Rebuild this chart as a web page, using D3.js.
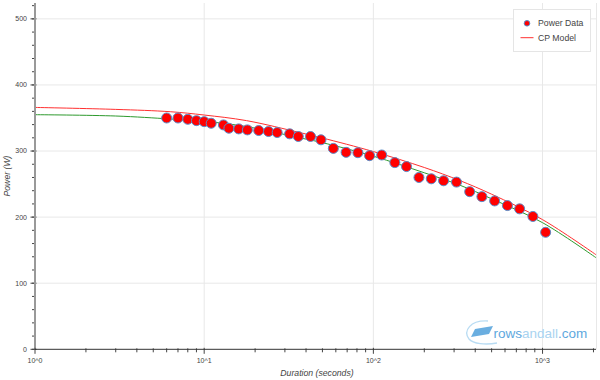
<!DOCTYPE html>
<html><head><meta charset="utf-8">
<script src="https://cdnjs.cloudflare.com/ajax/libs/d3/7.8.5/d3.min.js"></script>
<style>html,body{margin:0;padding:0;background:#fff;}svg{display:block;font-family:"Liberation Sans",Arial,Helvetica,sans-serif;}</style>
</head><body><div id="chart"></div>
<script>
// Power duration data (seconds, watts)
const durations = [6,7,8,9,10,11,13,14,16,18,21,24,27,32,36,42.5,49,58,69,81,95,112,134,157,186,220,260,310,371,438,521,620,732,877,1043];
const power = [350,350,348,346,344.5,342,339.5,334.5,333.5,332,331,329.5,328,326,322,322,317,304,298,297.5,293,294,282.5,276.5,260,258,255,253,238.5,231,224.5,217.5,212.5,201,177];
// Model curves
const modelT = [1,3,6.3,10,17.8,36.7,50,100,200,324,500,1000,2070];
const modelRed = [366,363,359.5,354.5,346,328,319.7,299.2,275.1,255.4,234.7,196.2,143.1];
const modelGreen = [355,353,348.5,345,337,320,312.7,292.2,267.1,248.4,227.7,191.6,138.6];
const xDomain = [1,2070];
const yDomain = [0,524];
const yTicks = [0,100,200,300,400,500];
const xTicks = [1,10,100,1000];
const xTickLabels = ["10^0","10^1","10^2","10^3"];
const legendLabels = ["Power Data","CP Model"];

const W=600,H=380;
const svg=d3.select("#chart").append("svg").attr("width",W).attr("height",H);
const x=d3.scaleLog().domain(xDomain).range([35,596]);
const y=d3.scaleLinear().domain(yDomain).range([349.3,3]);

// grid
const g=svg.append("g");
g.selectAll(".hg").data(yTicks.filter(d=>d>0)).join("line")
 .attr("x1",35).attr("x2",596).attr("y1",d=>y(d)).attr("y2",d=>y(d))
 .attr("stroke","#e8e8e8").attr("stroke-width",1);
g.selectAll(".vg").data(xTicks.filter(d=>d>1)).join("line")
 .attr("x1",d=>x(d)).attr("x2",d=>x(d)).attr("y1",3).attr("y2",349.3)
 .attr("stroke","#e8e8e8").attr("stroke-width",1);
// right frame
svg.append("line").attr("x1",596.5).attr("x2",596.5).attr("y1",3).attr("y2",349.3).attr("stroke","#e8e8e8");

// watermark
const wm=svg.append("g");
wm.append("path").attr("d","M488,321 C470,320 463,331 469,339 C473,344 486,345 497,343")
 .attr("fill","none").attr("stroke","#b9dcf3").attr("stroke-width",1.3);
wm.append("path").attr("d","M471,337 L475,329 L493,326 L489,334 Z").attr("fill","#6aaee0");
const wt=wm.append("text").attr("x",493.5).attr("y",338).attr("font-size",13.5);
wt.append("tspan").attr("fill","#5ea8de").text("rows");
wt.append("tspan").attr("fill","#a9d3f0").text("andall");
wt.append("tspan").attr("fill","#5ea8de").text(".com");

// lines
const line=d3.line().x((d,i)=>x(modelT[i])).y(d=>y(d)).curve(d3.curveCatmullRom.alpha(0.5));
svg.append("path").datum(modelGreen).attr("d",line).attr("fill","none").attr("stroke","#2e9a2e").attr("stroke-width",1);
svg.append("path").datum(modelRed).attr("d",line).attr("fill","none").attr("stroke","#ff3030").attr("stroke-width",1);

// points
svg.selectAll(".pt").data(durations).join("circle")
 .attr("cx",d=>x(d)).attr("cy",(d,i)=>y(power[i])).attr("r",5)
 .attr("fill","#ff0000").attr("stroke","#5a8cc8").attr("stroke-width",1);

// y axis
const ya=svg.append("g").attr("transform","translate(35,0)");
const yMinor=d3.range(0,521,20);
ya.selectAll(".ymt").data(yMinor).join("line").attr("x1",-3).attr("x2",1).attr("y1",d=>y(d)).attr("y2",d=>y(d)).attr("stroke","#444");
ya.selectAll(".yMt").data(yTicks).join("line").attr("x1",-4.5).attr("x2",1.5).attr("y1",d=>y(d)).attr("y2",d=>y(d)).attr("stroke","#444");
ya.append("line").attr("x1",0).attr("x2",0).attr("y1",3).attr("y2",349.3).attr("stroke","#999").attr("stroke-width",2);
ya.selectAll(".yl").data(yTicks).join("text").attr("x",-8).attr("y",d=>y(d)).attr("dy","0.35em")
 .attr("text-anchor","end").attr("font-size",7).attr("fill","#444").text(d=>d);
svg.append("text").attr("transform","translate(10,176) rotate(-90)").attr("text-anchor","middle")
 .attr("font-size",8.7).attr("font-style","italic").attr("fill","#444").text("Power (W)");

// x axis
const xa=svg.append("g").attr("transform","translate(0,349.3)");
const xMinor=[];
[1,10,100,1000].forEach(b=>{for(let k=2;k<=9;k++){if(b*k<=xDomain[1])xMinor.push(b*k);}});
xa.selectAll(".xmt").data(xMinor).join("line").attr("x1",d=>x(d)).attr("x2",d=>x(d)).attr("y1",-1).attr("y2",3).attr("stroke","#444");
xa.selectAll(".xMt").data(xTicks).join("line").attr("x1",d=>x(d)).attr("x2",d=>x(d)).attr("y1",-1.5).attr("y2",4.5).attr("stroke","#444");
xa.append("line").attr("x1",35).attr("x2",596).attr("y1",0).attr("y2",0).attr("stroke","#333").attr("stroke-width",1);
xa.selectAll(".xl").data(xTicks).join("text").attr("x",d=>x(d)).attr("y",13.5)
 .attr("text-anchor","middle").attr("font-size",7).attr("fill","#444").text((d,i)=>xTickLabels[i]);
svg.append("text").attr("x",317).attr("y",375.5).attr("text-anchor","middle")
 .attr("font-size",8.7).attr("font-style","italic").attr("fill","#444").text("Duration (seconds)");

// legend
const lg=svg.append("g");
lg.append("rect").attr("x",513.5).attr("y",9.5).attr("width",77).attr("height",42).attr("fill","#fff").attr("stroke","#e5e5e5");
lg.append("circle").attr("cx",527).attr("cy",23.3).attr("r",2.8).attr("fill","#ff0000").attr("stroke","#5a8cc8").attr("stroke-width",1);
lg.append("line").attr("x1",520.5).attr("x2",533.5).attr("y1",37.7).attr("y2",37.7).attr("stroke","#ff3030");
lg.selectAll(".lt").data(legendLabels).join("text").attr("x",538).attr("y",(d,i)=>23.3+i*14.4).attr("dy","0.35em")
 .attr("font-size",8.7).attr("fill","#444").text(d=>d);
</script></body></html>
